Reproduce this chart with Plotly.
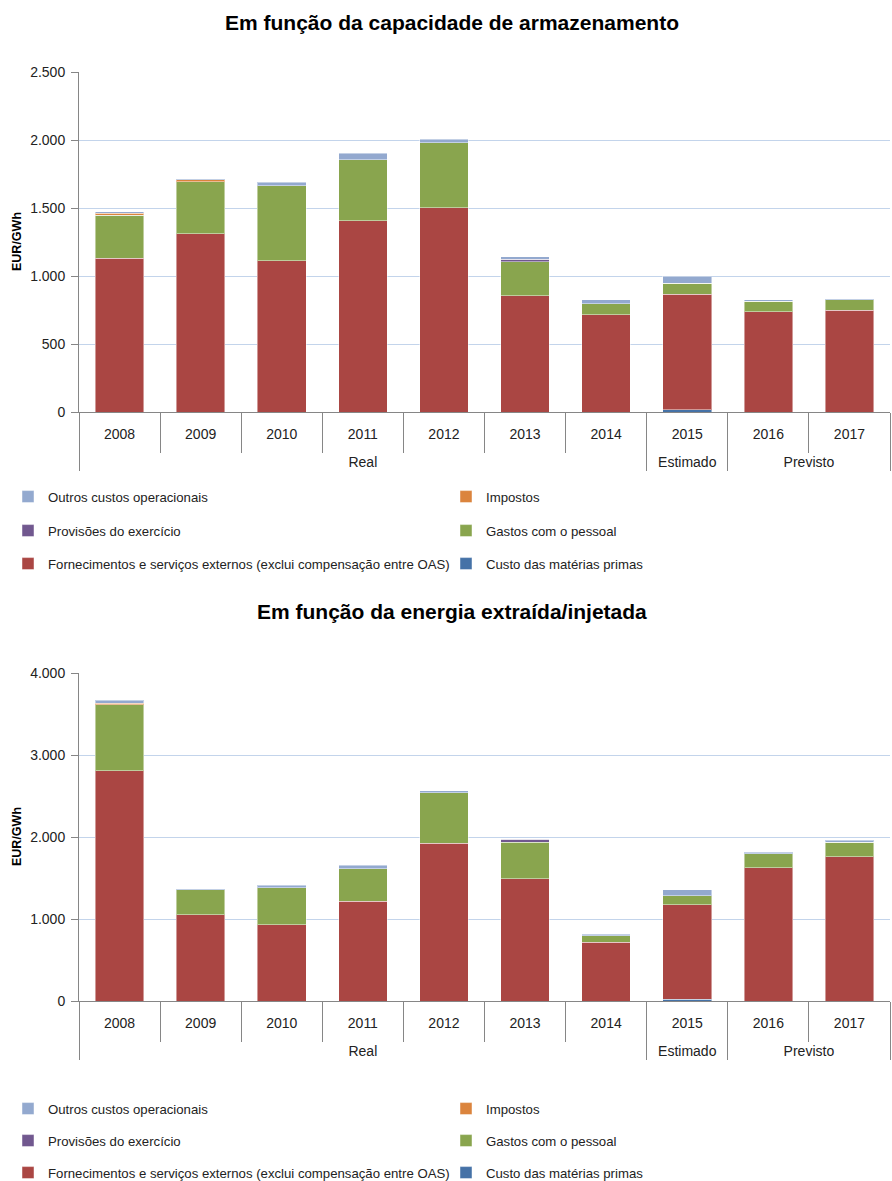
import plotly.graph_objects as go

# Categories
years = ["2008", "2009", "2010", "2011", "2012", "2013", "2014", "2015", "2016", "2017"]
phases = ["Real"] * 7 + ["Estimado"] + ["Previsto"] * 2

# Series names (bottom of stack first)
series_names = [
    "Custo das matérias primas",
    "Fornecimentos e serviços externos (exclui compensação entre OAS)",
    "Gastos com o pessoal",
    "Provisões do exercício",
    "Impostos",
    "Outros custos operacionais",
]
series_colors = ["#4572A7", "#AA4643", "#89A54E", "#71588F", "#DB843D", "#93A9CF"]

# EUR/GWh, by storage capacity
cap_custo = [0, 0, 0, 0, 0, 0, 0, 15, 0, 0]
cap_fornec = [1130, 1311, 1113, 1407, 1502, 855, 716, 850, 738, 748]
cap_gastos = [318, 383, 551, 448, 478, 250, 80, 81, 76, 78]
cap_provis = [0, 0, 0, 0, 0, 20, 0, 0, 0, 0]
cap_impostos = [13, 14, 0, 0, 0, 0, 0, 0, 0, 0]
cap_outros = [12, 5, 25, 47, 25, 17, 28, 54, 10, 7]

# EUR/GWh, by extracted/injected energy
ene_custo = [0, 0, 0, 0, 0, 0, 0, 20, 0, 0]
ene_fornec = [2809, 1053, 930, 1216, 1923, 1492, 716, 1154, 1626, 1760]
ene_gastos = [805, 301, 452, 397, 614, 447, 80, 110, 170, 175]
ene_provis = [0, 0, 0, 0, 0, 33, 0, 0, 0, 0]
ene_impostos = [20, 0, 0, 0, 0, 0, 0, 0, 0, 0]
ene_outros = [33, 12, 29, 42, 28, 8, 17, 70, 21, 28]

cap_series = [cap_custo, cap_fornec, cap_gastos, cap_provis, cap_impostos, cap_outros]
ene_series = [ene_custo, ene_fornec, ene_gastos, ene_provis, ene_impostos, ene_outros]

W, H = 892, 1181
ML, MR = 79, 2
PW = W - ML - MR

TXT = "Liberation Sans Narrow, Arial Narrow, Liberation Sans, sans-serif"
TITLE_FONT = "Liberation Sans, Arial, sans-serif"
GRAY = "#868686"


def px_y(p):
    return (H - p) / H


def px_x(p):
    return (p - ML) / PW


# group boundaries and centres, in category index units
bounds = [-0.5]
centres, labels = [], []
start = 0
for i in range(1, len(phases) + 1):
    if i == len(phases) or phases[i] != phases[start]:
        bounds.append(i - 0.5)
        centres.append((start + i - 1) / 2)
        labels.append(phases[start])
        start = i
xr = [-0.5, len(years) - 0.5]

# legend slot for each series: (column, row)
slot = {5: (0, 0), 4: (1, 0), 3: (0, 1), 2: (1, 1), 1: (0, 2), 0: (1, 2)}
col_left = [8, 446]
row_y = [[497, 531, 564], [1109, 1141, 1173]]

fig = go.Figure()
legend_layouts = {}
n = 0
for chart, (data, xa, ya) in enumerate([(cap_series, "x", "y"), (ene_series, "x2", "y2")]):
    for i, vals in enumerate(data):
        n += 1
        key = "legend" if n == 1 else f"legend{n}"
        c, r = slot[i]
        legend_layouts[key] = dict(
            xref="container", yref="container",
            x=col_left[c] / W, xanchor="left",
            y=1 - row_y[chart][r] / H, yanchor="middle",
            orientation="h",
            font=dict(family=TXT, size=13.2, color="#222"),
            bgcolor="rgba(0,0,0,0)",
            itemclick=False,
        )
        fig.add_trace(
            go.Bar(
                x=years,
                y=vals,
                name=series_names[i],
                marker=dict(color=series_colors[i], line=dict(color="rgba(255,255,255,0.45)", width=1)),
                xaxis=xa,
                yaxis=ya,
                legend=key,
                showlegend=True,
            )
        )
    # empty trace to carry the group-label axis
    fig.add_trace(go.Scatter(x=[], y=[], xaxis="x3" if chart == 0 else "x4", yaxis=ya,
                             showlegend=False, hoverinfo="skip"))

axis_years = dict(
    type="category",
    range=xr,
    showline=True,
    linecolor=GRAY,
    linewidth=1,
    ticks="outside",
    tickson="boundaries",
    ticklen=40,
    tickcolor=GRAY,
    showgrid=False,
    ticklabelstandoff=9,
    tickfont=dict(family=TXT, size=14, color="#222"),
    domain=[0, 1],
    automargin=False,
)
axis_groups = dict(
    type="linear",
    range=xr,
    anchor="free",
    showline=False,
    showgrid=False,
    zeroline=False,
    tickmode="array",
    tickvals=centres,
    ticktext=labels,
    ticks="",
    ticklabelstandoff=40,
    tickfont=dict(family=TXT, size=14, color="#222"),
    minor=dict(tickmode="array", tickvals=bounds, ticks="outside", ticklen=58, tickcolor=GRAY, tickwidth=1),
    domain=[0, 1],
    automargin=False,
)
axis_y = dict(
    showline=True,
    linecolor=GRAY,
    ticks="outside",
    ticklen=7,
    tickcolor=GRAY,
    showgrid=True,
    gridcolor="#C3D4EB",
    gridwidth=1,
    tickformat=",d",
    ticklabelstandoff=3,
    tickfont=dict(family=TXT, size=14, color="#222"),
    zeroline=False,
    automargin=False,
)

fig.update_layout(
    width=W,
    height=H,
    margin=dict(l=ML, r=MR, t=0, b=0, autoexpand=False),
    paper_bgcolor="white",
    plot_bgcolor="white",
    separators=",.",
    barmode="stack",
    bargap=0.4,
    xaxis=dict(axis_years, anchor="y"),
    xaxis2=dict(axis_years, anchor="y2"),
    xaxis3=dict(axis_groups, overlaying="x", position=px_y(412)),
    xaxis4=dict(axis_groups, overlaying="x2", position=px_y(1001)),
    yaxis=dict(axis_y, domain=[px_y(412), px_y(72)], range=[0, 2500], dtick=500, anchor="x"),
    yaxis2=dict(axis_y, domain=[px_y(1001), px_y(673)], range=[0, 4000], dtick=1000, anchor="x2"),
    showlegend=True,
    **legend_layouts,
)

# titles and axis titles
for text, yp in [("Em função da capacidade de armazenamento", 22), ("Em função da energia extraída/injetada", 612)]:
    fig.add_annotation(
        text=f"<b>{text}</b>", xref="paper", yref="paper", x=px_x(452), y=px_y(yp),
        xanchor="center", yanchor="middle", showarrow=False,
        font=dict(family=TITLE_FONT, size=21, color="#000"),
    )
for yp in [242, 837]:
    fig.add_annotation(
        text="<b>EUR/GWh</b>", xref="paper", yref="paper", x=px_x(17), y=px_y(yp),
        xanchor="center", yanchor="middle", textangle=-90, showarrow=False,
        font=dict(family="Liberation Sans, Arial, sans-serif", size=12.5, color="#000"),
    )

fig.write_html("out.html")
